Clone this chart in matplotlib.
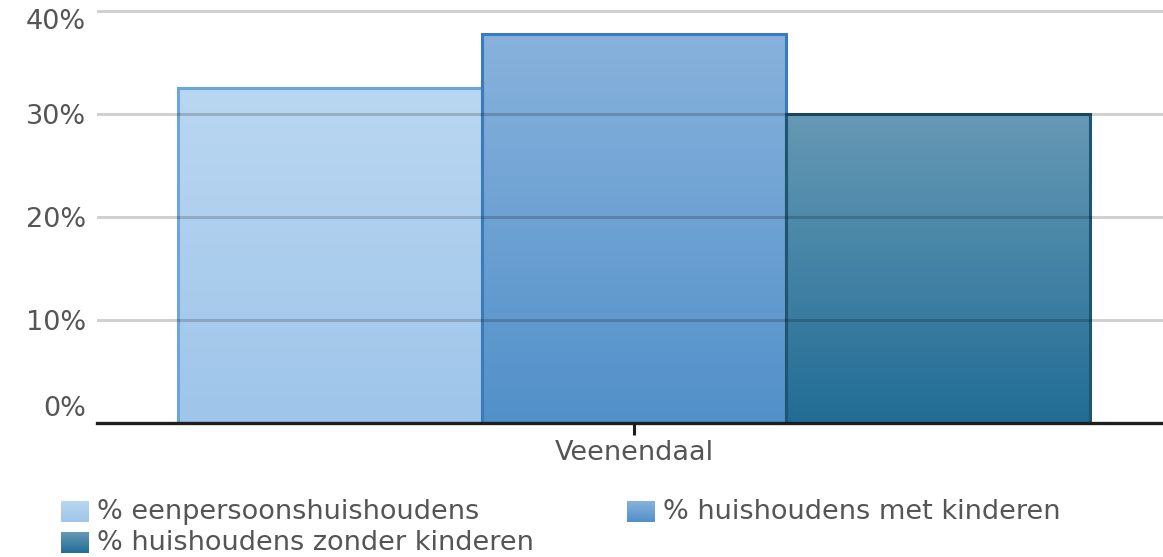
import numpy as np
import matplotlib
matplotlib.use("Agg")
import matplotlib.pyplot as plt
import matplotlib.transforms as mtransforms
from matplotlib.colors import LinearSegmentedColormap

# data
category = "Veenendaal"
series = ["% eenpersoonshuishoudens", "% huishoudens met kinderen", "% huishoudens zonder kinderen"]
values = [32.5, 37.7, 30.0]
yticks = [0, 10, 20, 30, 40]

# gradient (top, bottom) and edge colours per series
tops = ["#bad7f1", "#88b2dc", "#6699b5"]
bottoms = ["#9ec5ea", "#5190c9", "#226d95"]
edges = ["#6aa6dd", "#3a7abf", "#1e5672"]

plt.rcParams["font.family"] = ["DejaVu Sans"]
txt_col = "#555555"
fs = 19.5

fig = plt.figure(figsize=(11.63, 5.57), dpi=100)
ax = fig.add_axes([97 / 1163, (557 - 423) / 557, 1066 / 1163, 417.6 / 557])

offsets = [-1, 0, 1]
grad = np.linspace(1, 0, 256).reshape(-1, 1)
for i, v in enumerate(values):
    bar = ax.bar(offsets[i], v, width=1.0, facecolor="none", edgecolor=edges[i],
                 linewidth=2.2, zorder=3)[0]
    cmap = LinearSegmentedColormap.from_list("g%d" % i, [bottoms[i], tops[i]])
    im = ax.imshow(grad, cmap=cmap, aspect="auto", zorder=2,
                   extent=[bar.get_x(), bar.get_x() + bar.get_width(), 0, bar.get_height()])
    im.set_clip_path(bar)

for t in yticks[1:]:
    ax.axhline(t, color="black", alpha=0.18, linewidth=2.2, zorder=5)

ax.set_xlim(-1.766, 1.74)
ax.set_ylim(0, 40.5)
ax.set_yticks(yticks)
ax.set_yticklabels(["%d%%" % t for t in yticks])
ax.set_xticks([0])
ax.set_xticklabels([category])

for s in ["left", "right", "top"]:
    ax.spines[s].set_visible(False)
ax.spines["bottom"].set_color("#1e1e1e")
ax.spines["bottom"].set_linewidth(2.4)
ax.spines["bottom"].set_zorder(6)

ax.tick_params(axis="y", length=0, pad=8, labelsize=fs, labelcolor=txt_col)
ax.tick_params(axis="x", length=8.6, width=2.2, color="#1e1e1e", pad=4,
               labelsize=fs, labelcolor=txt_col)

# edge labels are nudged inwards in the reference
labs = ax.get_yticklabels()
labs[0].set_transform(labs[0].get_transform() + mtransforms.ScaledTranslation(0, 0.17, fig.dpi_scale_trans))
labs[-1].set_transform(labs[-1].get_transform() + mtransforms.ScaledTranslation(0, -0.08, fig.dpi_scale_trans))

# legend, row-major like the reference
leg_pos = [(61, 501), (627, 501), (61, 532)]
for i, name in enumerate(series):
    x, y = leg_pos[i]
    lax = fig.add_axes([x / 1163, (557 - y - 21) / 557, 28 / 1163, 21 / 557])
    cmap = LinearSegmentedColormap.from_list("l%d" % i, [bottoms[i], tops[i]])
    lax.imshow(grad, cmap=cmap, aspect="auto")
    lax.axis("off")
    fig.text((x + 36) / 1163, (557 - y - 11) / 557, name, fontsize=fs,
             color=txt_col, va="center", ha="left")

fig.savefig("out.png", dpi=100)
